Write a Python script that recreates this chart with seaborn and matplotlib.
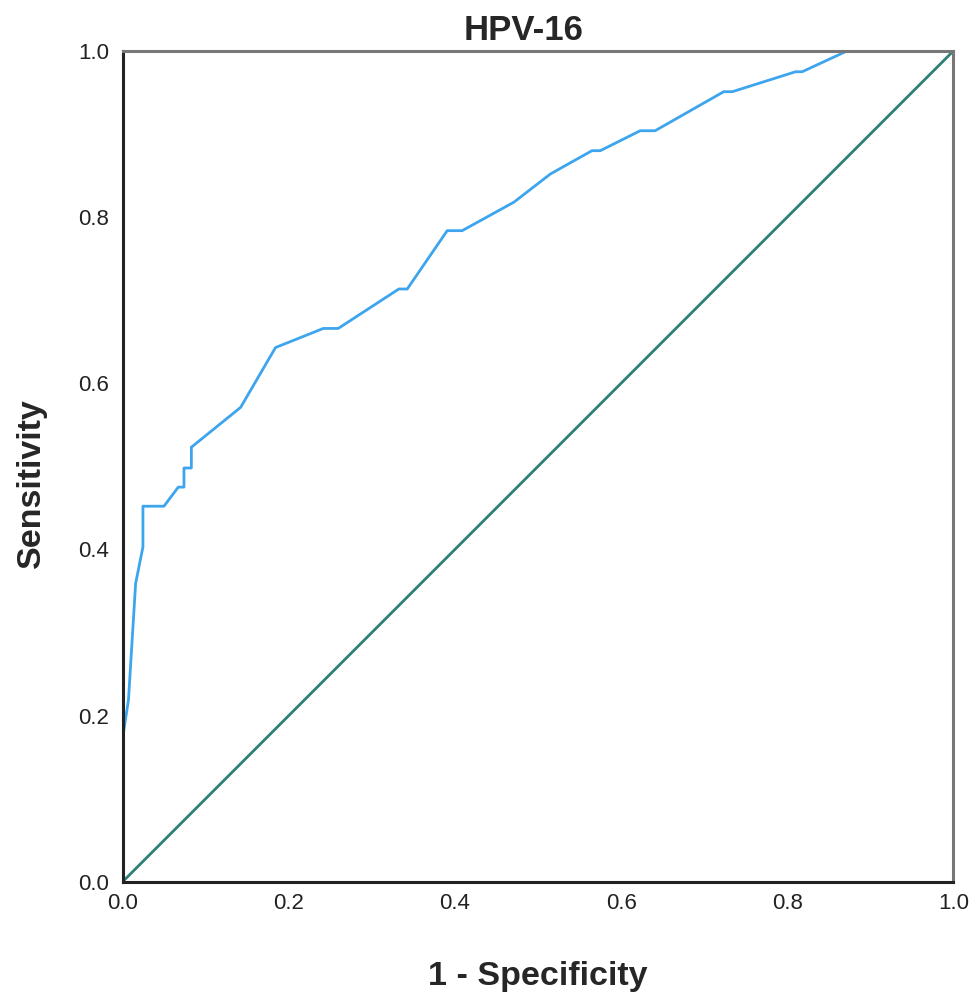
import matplotlib
matplotlib.use("Agg")
import matplotlib.pyplot as plt
import seaborn as sns
import pandas as pd

# ROC curve points for HPV-16
fpr = [0.0, 0.0, 0.007, 0.0156, 0.0244, 0.0244, 0.0497, 0.067, 0.0738, 0.0738,
       0.0827, 0.0827, 0.142, 0.184, 0.2415, 0.2595, 0.3325, 0.3426, 0.3907,
       0.4087, 0.471, 0.515, 0.565, 0.575, 0.623, 0.641, 0.7236, 0.734, 0.810,
       0.818, 0.872, 1.0]
tpr = [0.0, 0.173, 0.219, 0.359, 0.403, 0.452, 0.452, 0.475, 0.475, 0.498,
       0.498, 0.523, 0.571, 0.643, 0.666, 0.666, 0.7135, 0.7135, 0.7837,
       0.7837, 0.818, 0.852, 0.880, 0.880, 0.904, 0.904, 0.951, 0.951, 0.975,
       0.975, 1.0, 1.0]
ref_x = [0.0, 1.0]
ref_y = [0.0, 1.0]
ticks = [0.0, 0.2, 0.4, 0.6, 0.8, 1.0]
tick_labels = ["0.0", "0.2", "0.4", "0.6", "0.8", "1.0"]

sns.set_style("white")
plt.rcParams['font.family'] = ['Liberation Sans', 'DejaVu Sans']

fig = plt.figure(figsize=(9.72, 9.92), dpi=100)
ax = fig.add_axes([0.1262, 0.1112, 0.8546, 0.8374])

df_ref = pd.DataFrame({"x": ref_x, "y": ref_y})
df_roc = pd.DataFrame({"x": fpr, "y": tpr})
sns.lineplot(data=df_ref, x="x", y="y", ax=ax, color="#2E7F74", lw=2,
             sort=False, estimator=None)
sns.lineplot(data=df_roc, x="x", y="y", ax=ax, color="#3DA5EE", lw=2,
             sort=False, estimator=None)

ax.set_xlim(0, 1)
ax.set_ylim(0, 1)
ax.set_xticks(ticks)
ax.set_xticklabels(tick_labels)
ax.set_yticks(ticks)
ax.set_yticklabels(tick_labels)
ax.tick_params(axis="both", length=0, labelsize=16, colors="#222222", pad=8)
ax.tick_params(axis="y", pad=10)

for s in ["left", "bottom"]:
    ax.spines[s].set_color("#222222")
    ax.spines[s].set_linewidth(2.2)
for s in ["top", "right"]:
    ax.spines[s].set_color("#777777")
    ax.spines[s].set_linewidth(2.2)

ax.set_title("HPV-16", fontsize=25, fontweight="bold", pad=8, x=0.483)
ax.set_xlabel("1 - Specificity", fontsize=24.5, fontweight="bold", labelpad=34)
ax.set_ylabel("Sensitivity", fontsize=24.5, fontweight="bold", labelpad=22, y=0.48)

fig.savefig("out.png", dpi=100)
